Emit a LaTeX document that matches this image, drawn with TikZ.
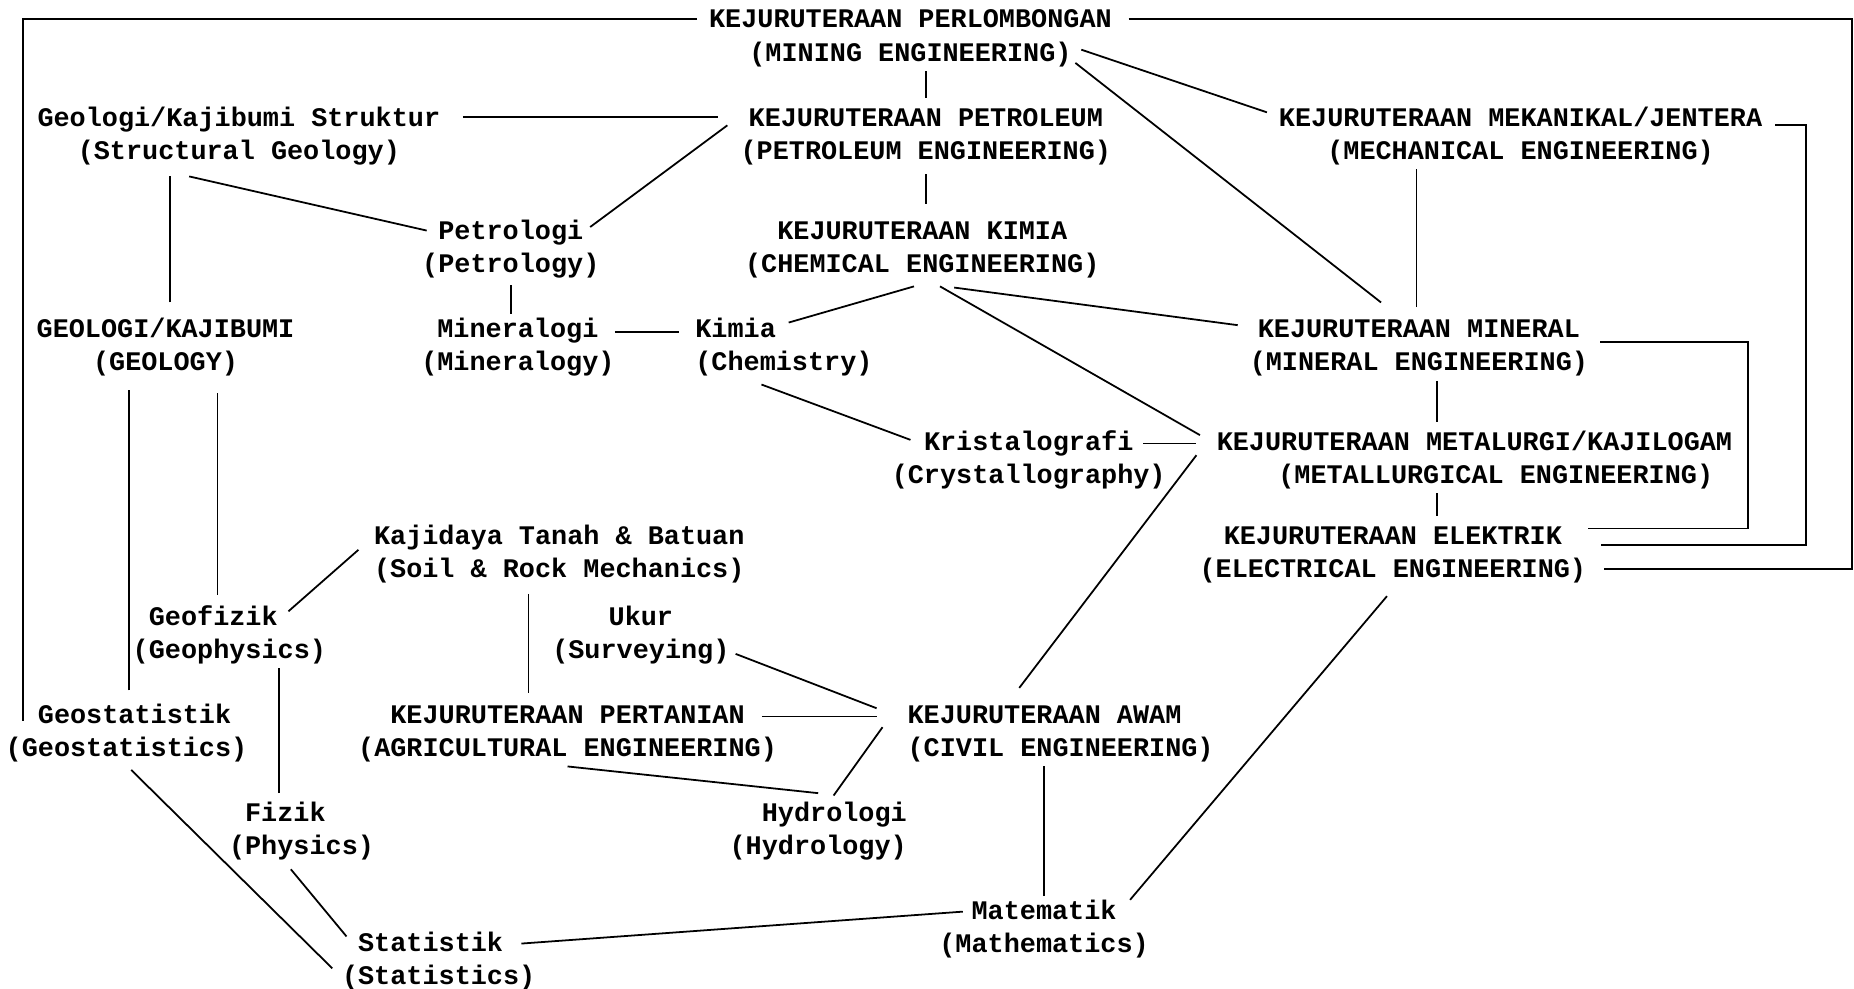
\documentclass[tikz,border=0pt]{standalone}
\usepackage{fontspec}
\setmainfont{Liberation Mono}
\newcommand{\pair}[2]{\rule{0pt}{23.6pt}#1\\\strut#2}

\begin{document}
\begin{tikzpicture}
		[x=1pt, y=-1pt,
		field/.style ={font=\fontsize{22.7}{28}\selectfont\bfseries, align=center, inner sep=0pt},
		lfield/.style ={field, align=left},
		rfield/.style ={field, align=right},
		link/.style ={line width=1.5pt},
		]

		\fill[white] (0,0) rectangle (1568,836);
		\useasboundingbox (0,0) rectangle (1568,836);

		\draw (770,30) node[field] (mine) {\pair{KEJURUTERAAN PERLOMBONGAN}{(MINING ENGINEERING)}};
		\draw (783,113) node[field] (petro) {\pair{KEJURUTERAAN PETROLEUM}{(PETROLEUM ENGINEERING)}};
		\draw (202,113) node[field] (struct) {\pair{Geologi/Kajibumi Struktur}{(Structural Geology)}};
		\draw (1286,113) node[field] (mech) {\pair{KEJURUTERAAN MEKANIKAL/JENTERA}{(MECHANICAL ENGINEERING)}};
		\draw (432,209) node[field] (ptrlg) {\pair{Petrologi}{(Petrology)}};
		\draw (780,209) node[field] (kimeng) {\pair{KEJURUTERAAN KIMIA}{(CHEMICAL ENGINEERING)}};
		\draw (140,292) node[field] (geol) {\pair{GEOLOGI/KAJIBUMI}{(GEOLOGY)}};
		\draw (438,292) node[field] (mnrlg) {\pair{Mineralogi}{(Mineralogy)}};
		\draw (663,292) node[lfield] (kimia) {\pair{Kimia}{(Chemistry)}};
		\draw (1200,292) node[field] (mineng) {\pair{KEJURUTERAAN MINERAL}{(MINERAL ENGINEERING)}};
		\draw (870,387) node[field] (kristal) {\pair{Kristalografi}{(Crystallography)}};
		\draw (1247,387) node[field] (metal) {\pair{KEJURUTERAAN METALURGI/KAJILOGAM}{\hspace*{36pt}(METALLURGICAL ENGINEERING)}};
		\draw (1178,467) node[field] (elek) {\pair{KEJURUTERAAN ELEKTRIK}{(ELECTRICAL ENGINEERING)}};
		\draw (473,467) node[field] (soil) {\pair{Kajidaya Tanah \& Batuan}{(Soil \& Rock Mechanics)}};
		\draw (194,535) node[lfield] (geofiz) {\pair{\hspace*{.6em}Geofizik}{(Geophysics)}};
		\draw (542,535) node[field] (ukur) {\pair{Ukur}{(Surveying)}};
		\draw (107,618) node[lfield] (geostat) {\pair{\hspace*{1.2em}Geostatistik}{(Geostatistics)}};
		\draw (480,618) node[field] (agri) {\pair{KEJURUTERAAN PERTANIAN}{(AGRICULTURAL ENGINEERING)}};
		\draw (897,618) node[lfield] (awam) {\pair{KEJURUTERAAN AWAM}{(CIVIL ENGINEERING)}};
		\draw (255,701) node[lfield] (fizik) {\pair{\hspace*{.6em}Fizik}{(Physics)}};
		\draw (692,701) node[rfield] (hydro) {\pair{Hydrologi}{(Hydrology)}};
		\draw (883,784) node[field] (math) {\pair{Matematik}{(Mathematics)}};
		\draw (371,811) node[lfield] (stat) {\pair{\hspace*{.6em}Statistik}{(Statistics)}};

		\draw[link] ([xshift=-10pt,yshift=14pt]mine.west) -| ([xshift=15pt,yshift=8pt]geostat.west);
		\draw[link] ([xshift=14pt,yshift=14pt]mine.east) -- ++(612,0) |- ([xshift=15pt,yshift=-14pt]elek.east);
		\draw[link] ([xshift=11pt,yshift=7pt]mech.east) -- ++(26,0) |- ([xshift=12pt,yshift=6pt]elek.east);
		\draw[link] ([xshift=10pt,yshift=3pt]mineng.east) -- ++(125,0) |- ([xshift=1pt,yshift=20pt]elek.east);

		\path[link]
		(petro.north) edge (petro.north |- mine.south)
		([yshift=-4pt]petro.south) edge ([yshift=6pt]petro.south |- kimeng.north)
		([xshift=-26pt,yshift=-12pt]mine.east) edge ([xshift=-10pt,yshift=18pt]mech.west)
		([xshift=-31pt,yshift=7pt]mine.south east) edge ([xshift=-32pt,yshift=6pt]mineng.north)
		([xshift=-2pt,yshift=2pt]mineng.north) edge ([xshift=-2pt]mineng.north |- mech.south)
		([xshift=19pt,yshift=14pt]struct.east) edge ([xshift=-19pt,yshift=14pt]petro.west)
		([xshift=-11pt,yshift=7pt]petro.west) edge ([xshift=-8pt,yshift=17pt]ptrlg.east)
		([xshift=-42pt,yshift=-6pt]struct.south) edge ([xshift=4pt,yshift=14pt]ptrlg.west)
		([xshift=4pt,yshift=6pt]geol.north) edge ([xshift=4pt,yshift=-6pt]geol.north |- struct.south)
		([yshift=-2pt]ptrlg.south) edge ([yshift=-4pt]ptrlg.south |- mnrlg.north)
		([yshift=11pt]mnrlg.east) edge ([xshift=-14pt,yshift=11pt]kimia.west)
		([xshift=-7pt,yshift=-3pt]kimeng.south) edge ([xshift=4pt,yshift=-11pt]kimia.north)
		([xshift=27pt,yshift=-4pt]kimeng.south) edge ([xshift=-10pt,yshift=17pt]mineng.west)
		([xshift=15pt,yshift=-3pt]kimeng.south) edge ([xshift=-14pt,yshift=19pt]metal.west)
		([xshift=-19pt,yshift=-3pt]kimia.south) edge ([xshift=16pt,yshift=15pt]kristal.west)
		([xshift=-19pt,yshift=12pt]kristal.east) edge ([xshift=-17pt,yshift=12pt]metal.west)
		([xshift=-17pt,yshift=2pt]metal.west) edge ([xshift=-35pt,yshift=6pt]awam.north)
		([xshift=15pt]mineng.south) edge ([xshift=15pt]mineng.south |- metal.north)
		([xshift=-32pt]metal.south) edge ([xshift=-32pt]metal.south |- elek.north)
		([xshift=-5pt,yshift=-7pt]elek.south) edge ([xshift=-16pt,yshift=23pt]math.east)
		([yshift=-4pt]math.north) edge (math.north |- awam.south)
		([xshift=2pt,yshift=4pt]geostat.north) edge ([xshift=2pt,yshift=-8pt]geostat.north |- geol.south)
		([xshift=-10pt,yshift=2pt]geofiz.north) edge ([xshift=-10pt,yshift=-10pt]geofiz.north |- geol.south)
		([xshift=-13pt,yshift=2pt]soil.west) edge ([xshift=-32pt,yshift=18pt]geofiz.east)
		([xshift=-26pt,yshift=-5pt]soil.south) edge ([xshift=-26pt,yshift=2pt]soil.south |- agri.north)
		([xshift=5pt,yshift=-18pt]ukur.east) edge ([xshift=-26pt,yshift=19pt]awam.west)
		([xshift=-13pt,yshift=12pt]agri.east) edge ([xshift=-26pt,yshift=12pt]awam.west)
		(agri.south) edge (hydro.north)
		([xshift=-21pt,yshift=3pt]awam.west) edge ([xshift=13pt,yshift=-2pt]hydro.north)
		([xshift=-19pt]fizik.north) edge ([xshift=-19pt]fizik.north |- geofiz.south)
		([xshift=4pt,yshift=-3pt]geostat.south) edge ([xshift=-8pt,yshift=-8pt]stat.west)
		([xshift=-9pt,yshift=-4pt]fizik.south) edge ([xshift=4pt,yshift=19pt]stat.west)
		([xshift=-12pt,yshift=13pt]stat.east) edge ([xshift=20pt,yshift=13pt]math.west);

	\end{tikzpicture}
\end{document}
